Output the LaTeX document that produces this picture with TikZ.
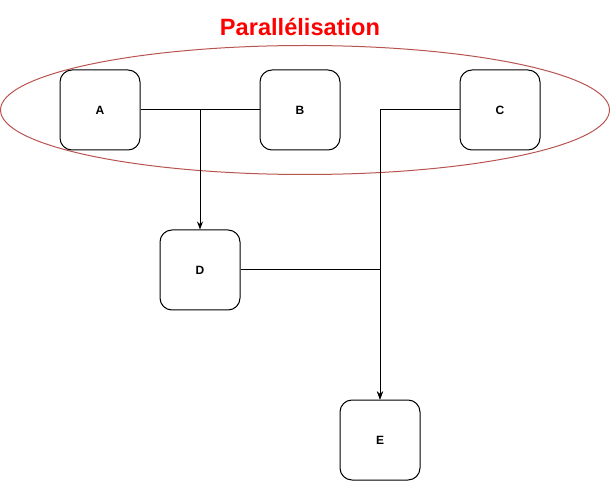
\documentclass[tikz,border=0pt]{standalone}
\usepackage{fontspec}
\setmainfont{Liberation Sans}
\usetikzlibrary{arrows.meta,shapes.geometric}
\definecolor{grpred}{HTML}{B85450}
\begin{document}
\begin{tikzpicture}[x=1pt,y=-1pt,line width=1pt,
                    every node/.style = {align=center, font=\bfseries\fontsize{12}{14}\selectfont},
                    task/.style = {draw, rounded corners=12pt, minimum width=80pt, minimum height=80pt, inner sep=0pt},
                    flow/.style = {-{Stealth[length=8pt,width=6pt]}}]
    \useasboundingbox (0,0) rectangle (611,481);
    \node[draw=grpred, ellipse, minimum width=609pt, minimum height=129pt] (par) at (305,110) {};
    \node[text=red, font=\bfseries\fontsize{23.6}{28}\selectfont] (title) at (300,27) {Parallélisation};
    \node[task] (A) at (100,110) {A};
    \node[task] (B) at (300,110) {B};
    \node[task] (C) at (500,110) {C};
    \node[task] (D) at (200,270) {D};
    \node[task] (E) at (380,440) {E};
    \coordinate (jAB) at (D.north |- A.east);
    \draw (A) -- (B);
    \draw[flow] (jAB) -- (D);
    \draw[flow] (C.west) -| (E.north);
    \draw[flow] (D.east) -| (E.north);
\end{tikzpicture}
\end{document}
